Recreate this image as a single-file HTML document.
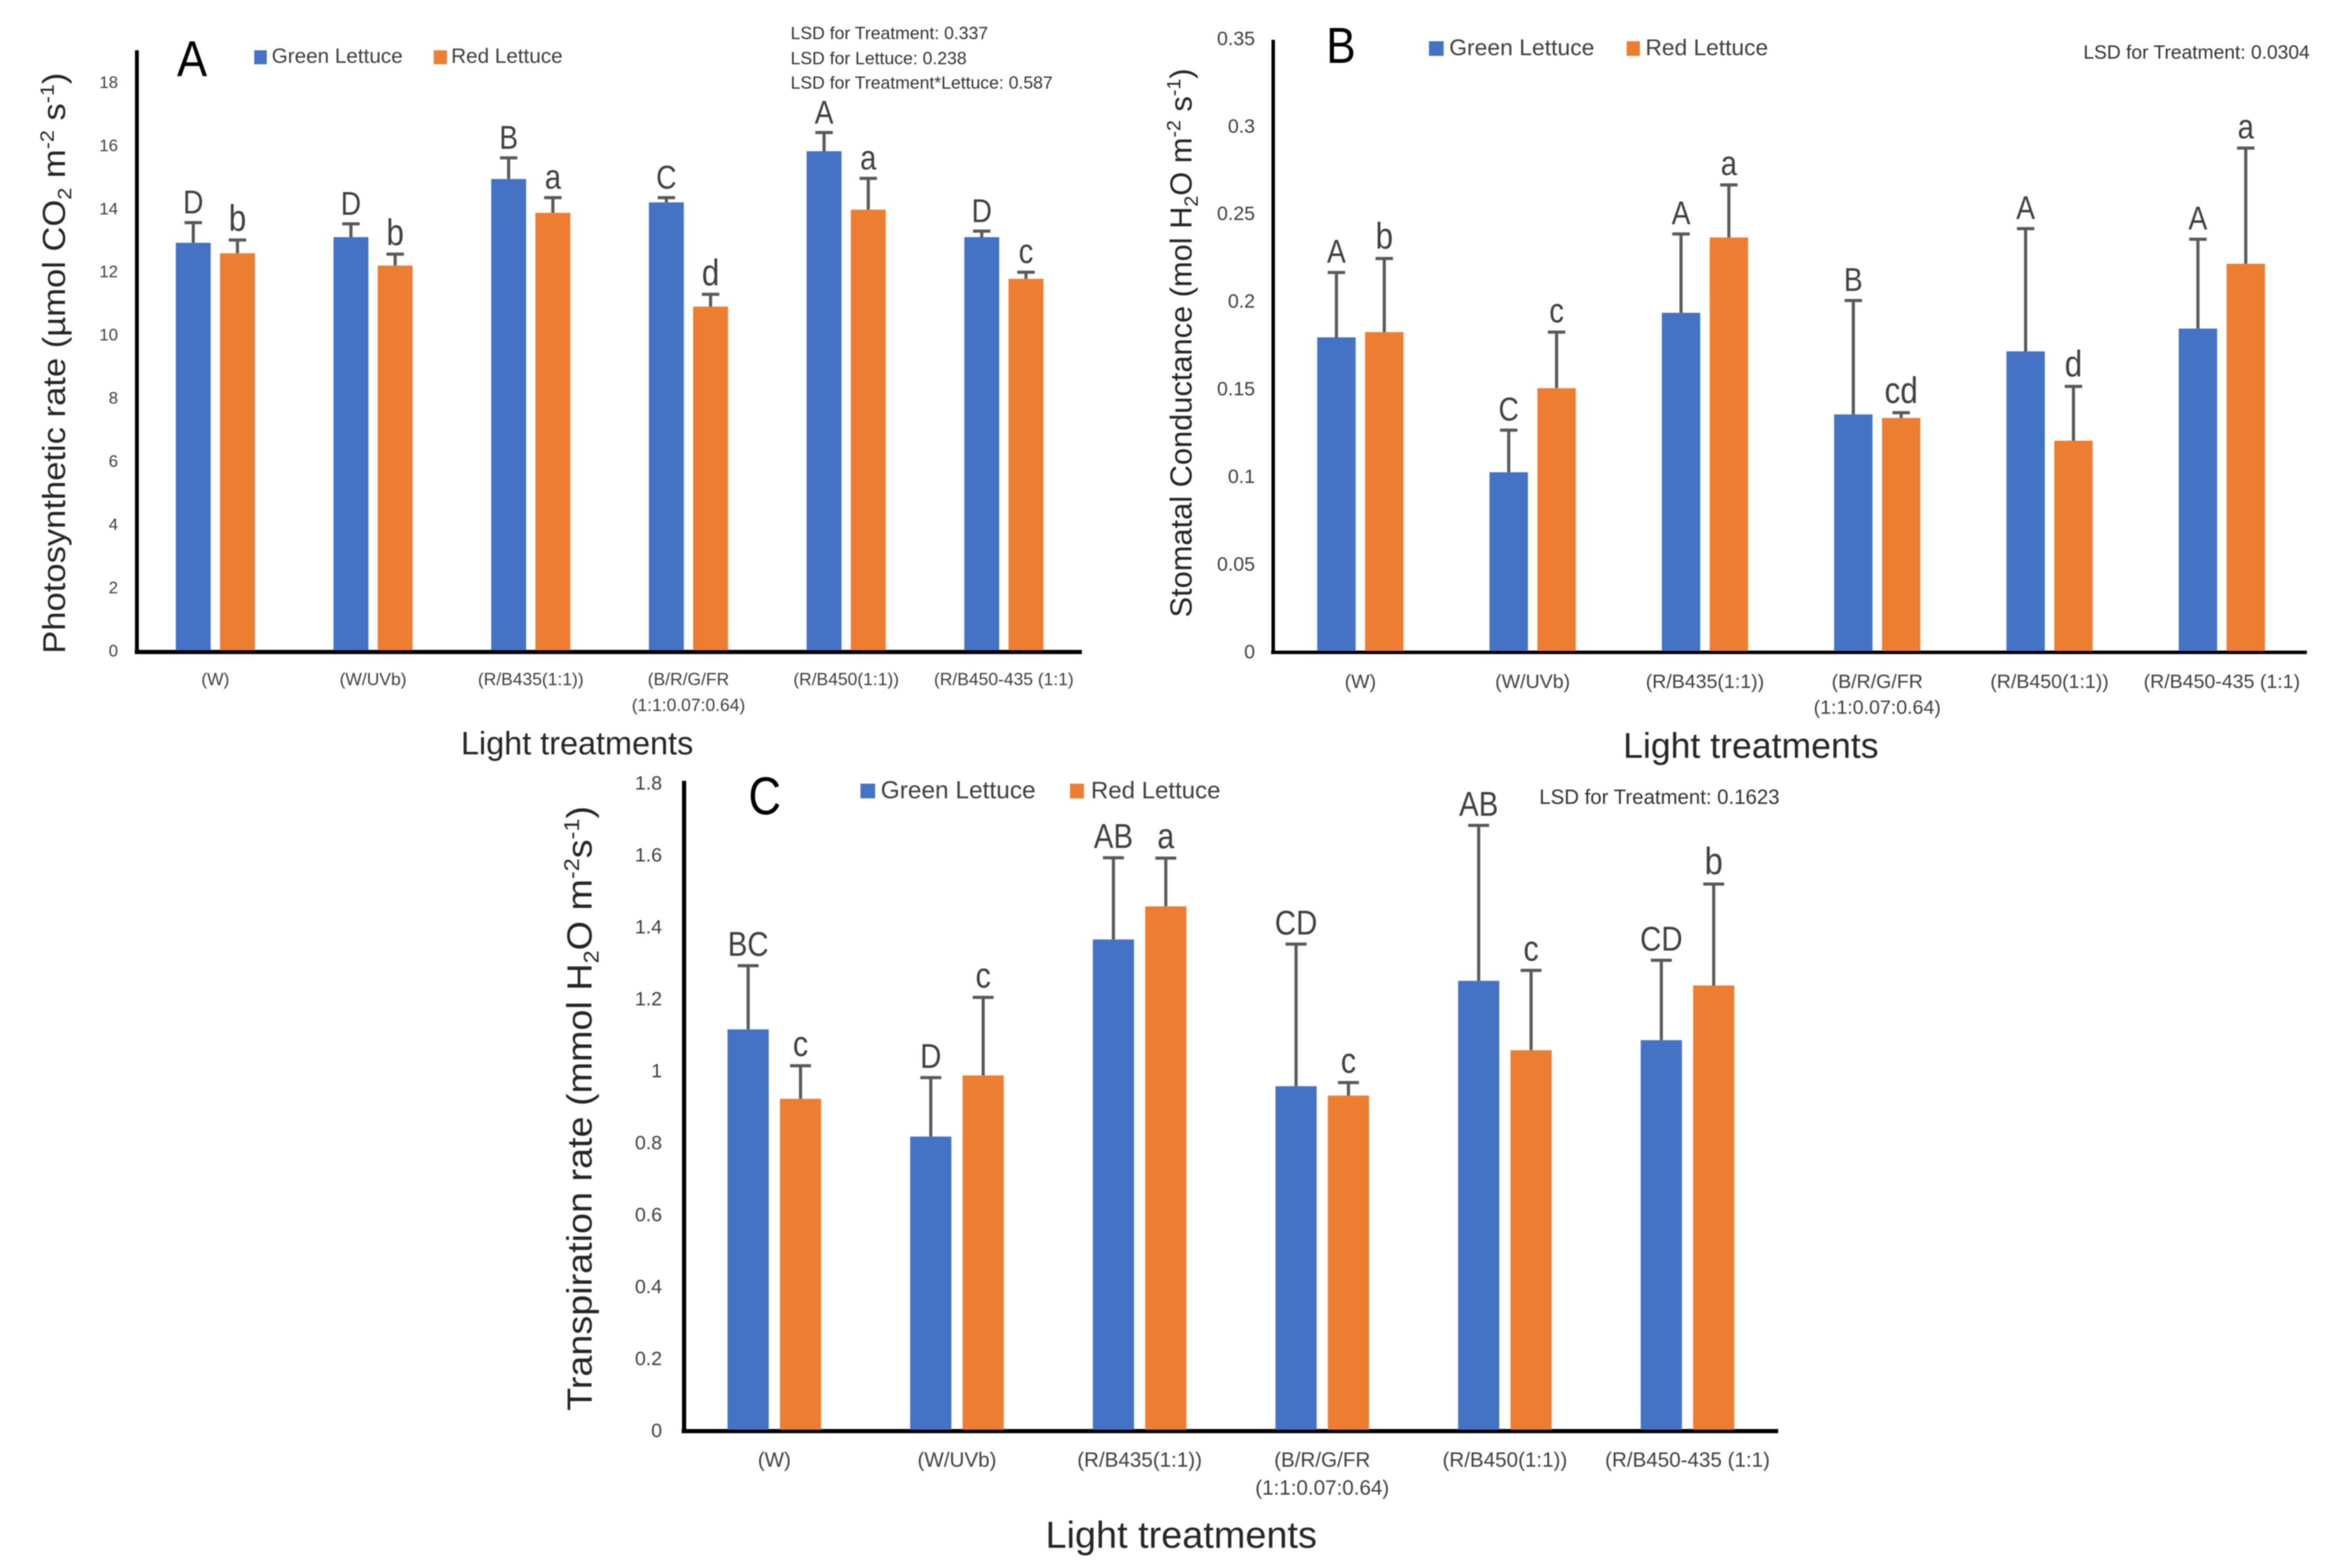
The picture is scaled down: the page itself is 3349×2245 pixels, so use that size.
<!DOCTYPE html>
<html lang="en">
<head>
<meta charset="utf-8">
<title>Lettuce gas exchange under light treatments</title>
<style>
html,body{margin:0;padding:0;background:#fff;}
svg{display:block;filter:blur(.7px);font-family:"Liberation Sans",sans-serif;}
.title{fill:#262626;}
.note{fill:#333;}
.panel-letter{fill:#000;}
.legend{fill:#404040;}
</style>
</head>
<body>
<svg id="figure" xmlns="http://www.w3.org/2000/svg" width="3349" height="2245" viewBox="0 0 3349 2245">
  <rect x="0" y="0" width="3349" height="2245" fill="#fff"/>

  <g id="panel-a">
    <text class="panel-letter" font-size="72" text-anchor="middle" transform="translate(275,109) scale(.9,1)">A</text>
    <rect x="364" y="72" width="18" height="20" fill="#4472C4"/>
    <text class="legend" x="389" y="90" font-size="29.6">Green Lettuce</text>
    <rect x="621" y="72" width="19" height="20" fill="#ED7D31"/>
    <text class="legend" x="646" y="90" font-size="29.6">Red Lettuce</text>
    <text class="note" x="1132" y="56" font-size="25.2">LSD for Treatment: 0.337</text>
    <text class="note" x="1132" y="92" font-size="25.2">LSD for Lettuce: 0.238</text>
    <text class="note" x="1132" y="127" font-size="25.2">LSD for Treatment*Lettuce: 0.587</text>
    <text class="title" font-size="45" textLength="832" lengthAdjust="spacingAndGlyphs" transform="translate(93,936) rotate(-90)">Photosynthetic rate (µmol CO<tspan font-size="28" dy="9">2</tspan><tspan dy="-9"> m</tspan><tspan font-size="28" dy="-16">-2</tspan><tspan dy="16"> s</tspan><tspan font-size="28" dy="-16">-1</tspan><tspan dy="16">)</tspan></text>
    <text class="title" x="660" y="1080" font-size="46.4">Light treatments</text>
    <line x1="196" y1="72" x2="196" y2="936" stroke="#000" stroke-width="5.5"/>
    <line x1="193" y1="933.5" x2="1549" y2="933.5" stroke="#000" stroke-width="6"/>
  </g>

  <g id="panel-b">
    <text class="panel-letter" font-size="72" text-anchor="middle" transform="translate(1920,90) scale(.88,1)">B</text>
    <rect x="2046" y="59" width="21" height="21" fill="#4472C4"/>
    <text class="legend" x="2075" y="79" font-size="32.8">Green Lettuce</text>
    <rect x="2329" y="59" width="19" height="21" fill="#ED7D31"/>
    <text class="legend" x="2356" y="79" font-size="32.6">Red Lettuce</text>
    <text class="note" x="2983" y="84" font-size="27.5">LSD for Treatment: 0.0304</text>
    <text class="title" font-size="44" textLength="786" lengthAdjust="spacingAndGlyphs" transform="translate(1706,884) rotate(-90)">Stomatal Conductance (mol H<tspan font-size="28" dy="9">2</tspan><tspan dy="-9">O m</tspan><tspan font-size="28" dy="-16">-2</tspan><tspan dy="16"> s</tspan><tspan font-size="28" dy="-16">-1</tspan><tspan dy="16">)</tspan></text>
    <text class="title" x="2324" y="1085" font-size="51">Light treatments</text>
    <line x1="1823" y1="57" x2="1823" y2="936" stroke="#000" stroke-width="5"/>
    <line x1="1820" y1="934" x2="3303" y2="934" stroke="#000" stroke-width="5"/>
  </g>

  <g id="panel-c">
    <text class="panel-letter" font-size="76" text-anchor="middle" transform="translate(1095,1166) scale(.85,1)">C</text>
    <rect x="1232" y="1122" width="21" height="21" fill="#4472C4"/>
    <text class="legend" x="1261" y="1143" font-size="35">Green Lettuce</text>
    <rect x="1532" y="1122" width="20" height="21" fill="#ED7D31"/>
    <text class="legend" x="1562" y="1143" font-size="34.4">Red Lettuce</text>
    <text class="note" x="2204" y="1151" font-size="29.2">LSD for Treatment: 0.1623</text>
    <text class="title" font-size="50" textLength="866" lengthAdjust="spacingAndGlyphs" transform="translate(847,2020) rotate(-90)">Transpiration rate (mmol H<tspan font-size="31" dy="10">2</tspan><tspan dy="-10">O m</tspan><tspan font-size="31" dy="-18">-2</tspan><tspan dy="18">s</tspan><tspan font-size="31" dy="-18">-1</tspan><tspan dy="18">)</tspan></text>
    <text class="title" x="1497" y="2216" font-size="54.2">Light treatments</text>
    <line x1="979.5" y1="1118" x2="979.5" y2="2052" stroke="#000" stroke-width="6"/>
    <line x1="976" y1="2049" x2="2546" y2="2049" stroke="#000" stroke-width="6"/>
  </g>
</svg>

<script>
const categoriesLine1 = ['(W)', '(W/UVb)', '(R/B435(1:1))', '(B/R/G/FR', '(R/B450(1:1))', '(R/B450-435 (1:1)'];
const categoriesLine2 = ['', '', '', '(1:1:0.07:0.64)', '', ''];

const photoTicks = ['0', '2', '4', '6', '8', '10', '12', '14', '16', '18'];
const photoGreen = [12.9, 13.08, 14.92, 14.18, 15.8, 13.08];
const photoRed = [12.57, 12.18, 13.85, 10.88, 13.95, 11.76];
const photoGreenErr = [0.64, 0.42, 0.67, 0.15, 0.59, 0.19];
const photoRedErr = [0.42, 0.36, 0.48, 0.39, 0.99, 0.21];
const photoGreenLetters = ['D', 'D', 'B', 'C', 'A', 'D'];
const photoRedLetters = ['b', 'b', 'a', 'd', 'a', 'c'];

const stomaTicks = ['0', '0.05', '0.1', '0.15', '0.2', '0.25', '0.3', '0.35'];
const stomaGreen = [0.179, 0.102, 0.193, 0.135, 0.171, 0.184];
const stomaRed = [0.182, 0.150, 0.236, 0.133, 0.120, 0.221];
const stomaGreenErr = [0.037, 0.024, 0.045, 0.065, 0.070, 0.051];
const stomaRedErr = [0.042, 0.032, 0.030, 0.003, 0.031, 0.066];
const stomaGreenLetters = ['A', 'C', 'A', 'B', 'A', 'A'];
const stomaRedLetters = ['b', 'c', 'a', 'cd', 'd', 'a'];

const transTicks = ['0', '0.2', '0.4', '0.6', '0.8', '1', '1.2', '1.4', '1.6', '1.8'];
const transGreen = [1.113, 0.815, 1.363, 0.955, 1.248, 1.083];
const transRed = [0.92, 0.985, 1.455, 0.929, 1.055, 1.235];
const transGreenErr = [0.177, 0.164, 0.227, 0.395, 0.432, 0.222];
const transRedErr = [0.092, 0.217, 0.134, 0.036, 0.222, 0.282];
const transGreenLetters = ['BC', 'D', 'AB', 'CD', 'AB', 'CD'];
const transRedLetters = ['c', 'c', 'a', 'c', 'c', 'b'];

const NS = 'http://www.w3.org/2000/svg';

function make(tag, attrs, parent) {
  const el = document.createElementNS(NS, tag);
  for (const key in attrs) el.setAttribute(key, attrs[key]);
  parent.appendChild(el);
  return el;
}

function letterFactor(str) {
  if (/[bd]/.test(str)) return 1.14;
  if (/[a-z]/.test(str)) return 1.06;
  return 1.02;
}

function drawPanel(layout, ticks, green, red, greenErr, redErr, greenLetters, redLetters) {
  const parent = document.getElementById(layout.id);
  const maxTick = parseFloat(ticks[ticks.length - 1]);
  const yScale = function (v) { return layout.y0 + (layout.yMax - layout.y0) * v / maxTick; };
  const xGroup = function (i) { return layout.x0 + i * layout.step; };

  ticks.forEach(function (label) {
    const t = make('text', {
      x: layout.tickX, y: yScale(parseFloat(label)) + layout.tickSize * 0.37,
      'font-size': layout.tickSize, 'text-anchor': 'end', fill: '#404040'
    }, parent);
    
    
    t.textContent = label;
  });

  categoriesLine1.forEach(function (label, i) {
    const cx = xGroup(i) + (layout.offset + layout.barW) / 2;
    const t1 = make('text', {
      x: cx, y: layout.catY, 'font-size': layout.catSize, 'text-anchor': 'middle', fill: '#404040'
    }, parent);
    
    
    t1.textContent = label;
    if (categoriesLine2[i]) {
      const t2 = make('text', {
        x: cx, y: layout.catY + layout.catGap, 'font-size': layout.catSize, 'text-anchor': 'middle', fill: '#404040'
      }, parent);
      
      
      t2.textContent = categoriesLine2[i];
    }
  });

  [[green, greenErr, greenLetters, 0, '#4472C4', 'green'], [red, redErr, redLetters, layout.offset, '#ED7D31', 'red']].forEach(function (s) {
    s[0].forEach(function (value, i) {
      const left = xGroup(i) + s[3];
      const mid = left + layout.barW / 2;
      const top = yScale(value);
      const errTop = yScale(value + s[1][i]);

      const stem = make('line', {
        x1: mid, x2: mid, y1: top, y2: errTop, stroke: '#595959', 'stroke-width': 4.5
      }, parent);
      
      

      const cap = make('line', {
        x1: mid - layout.capW / 2, x2: mid + layout.capW / 2, y1: errTop, y2: errTop, stroke: '#595959', 'stroke-width': 4.5
      }, parent);
      
      

      const bar = make('rect', {
        x: left, y: top, width: layout.barW, height: layout.y0 - top, fill: s[4]
      }, parent);
      
      

      const letter = make('text', {
        'font-size': layout.letterSize * letterFactor(s[2][i]), 'text-anchor': 'middle', fill: '#404040',
        transform: 'translate(' + mid + ',' + (errTop - layout.letterGap) + ') scale(.86,1)'
      }, parent);
      
      
      letter.textContent = s[2][i];
    });
  });
}

drawPanel(
  { id: 'panel-a', x0: 251.7, step: 225.8, offset: 63.3, barW: 50, y0: 931, yMax: 117, tickX: 169, tickSize: 24, catY: 981, catGap: 37, catSize: 25, capW: 25, letterSize: 46, letterGap: 13 },
  photoTicks, photoGreen, photoRed, photoGreenErr, photoRedErr, photoGreenLetters, photoRedLetters
);
drawPanel(
  { id: 'panel-b', x0: 1886, step: 246.7, offset: 68.5, barW: 55, y0: 932, yMax: 54, tickX: 1797, tickSize: 28, catY: 985, catGap: 37, catSize: 28, capW: 25, letterSize: 46, letterGap: 14 },
  stomaTicks, stomaGreen, stomaRed, stomaGreenErr, stomaRedErr, stomaGreenLetters, stomaRedLetters
);
drawPanel(
  { id: 'panel-c', x0: 1041.7, step: 261.5, offset: 75, barW: 59, y0: 2047, yMax: 1120, tickX: 948, tickSize: 28, catY: 2100, catGap: 40, catSize: 29.5, capW: 30, letterSize: 48, letterGap: 14 },
  transTicks, transGreen, transRed, transGreenErr, transRedErr, transGreenLetters, transRedLetters
);
</script>
</body>
</html>
